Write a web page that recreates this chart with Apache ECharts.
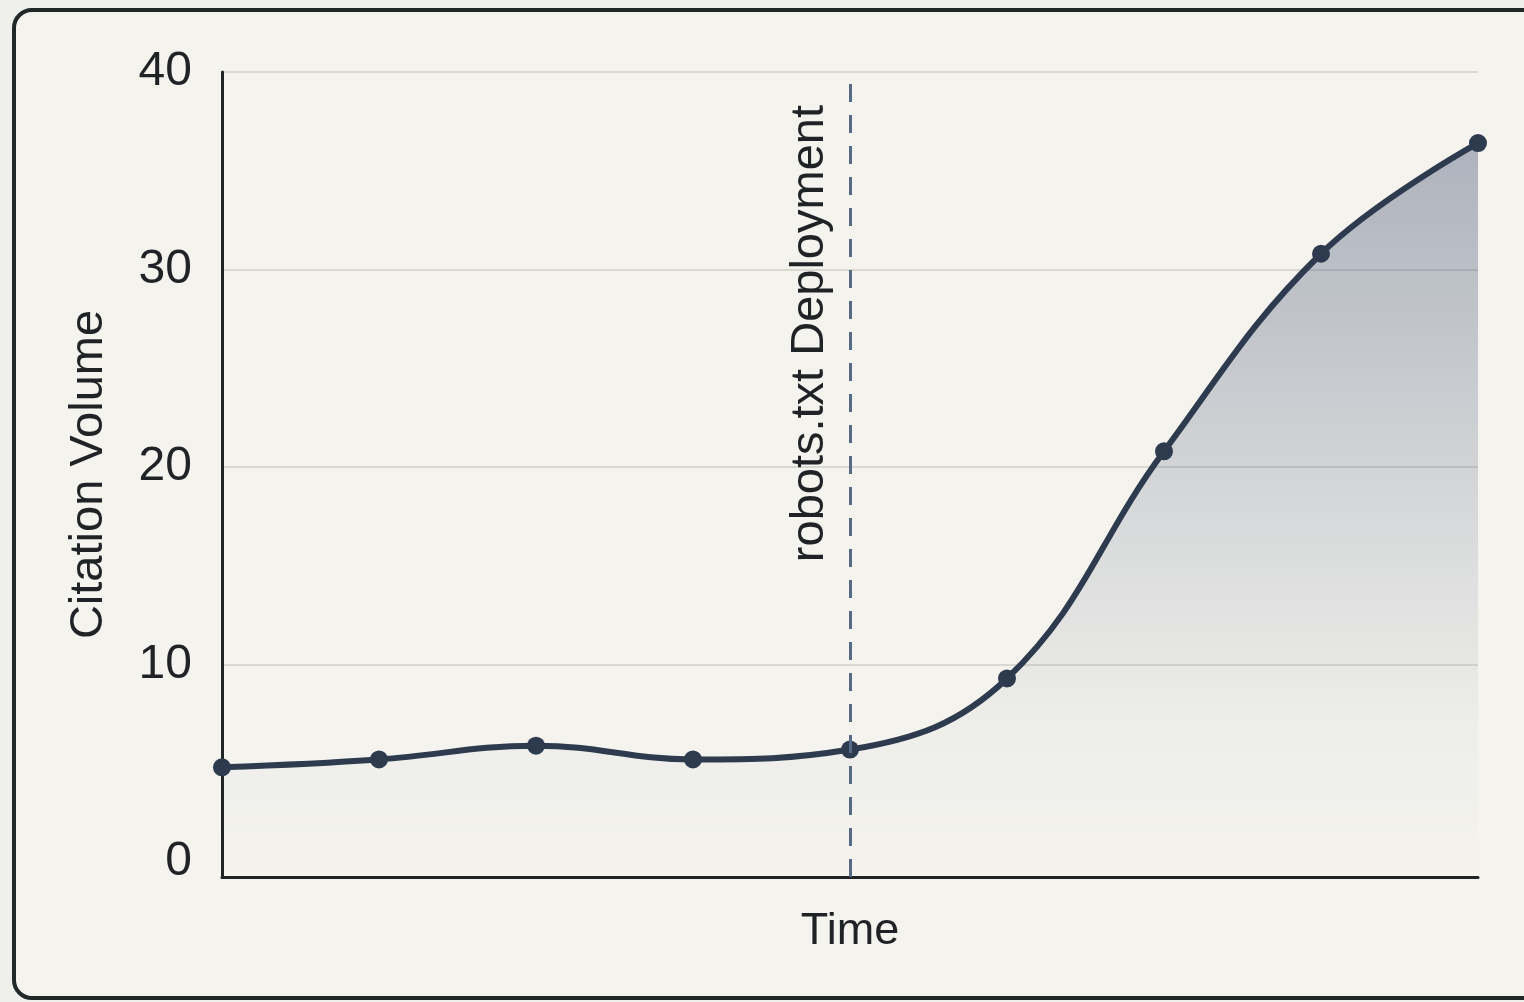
<!DOCTYPE html>
<html>
<head>
<meta charset="utf-8">
<title>Citation Volume over Time</title>
<script src="https://cdn.jsdelivr.net/npm/echarts@6/dist/echarts.min.js"></script>
<style>
  html, body { margin: 0; padding: 0; background: #eff0ec; }
  #chart { width: 1524px; height: 1002px; }
</style>
</head>
<body>
<div id="chart"></div>
<script>
// Time steps (unlabelled on the axis) and citation counts at each step
const timeSlots = ['t1', 't2', 't3', 't4', 't5', 't6', 't7', 't8', 't9'];
const citationVolume = [4.8, 5.2, 5.9, 5.2, 5.7, 9.3, 20.8, 30.8, 36.4];

// Y-axis labels and horizontal grid lines
const yLabelValues = [0, 10, 20, 30, 40];
const yGridValues = [10, 20, 30, 40];

// Event marker
const deploymentSlot = 't5';
const deploymentLabel = 'robots.txt Deployment';

const FONT = '"Liberation Sans", Arial, Helvetica, sans-serif';
const INK = '#1f2326';
const LINE = '#2e3b4e';

const chart = echarts.init(document.getElementById('chart'), null, { renderer: 'canvas' });

chart.setOption({
  backgroundColor: '#eff0ec',
  animation: false,
  graphic: {
    elements: [{
      type: 'rect',
      z: -100,
      shape: { x: 14, y: 10, width: 1560, height: 988, r: 18 },
      style: { fill: '#f4f3ee', stroke: '#222828', lineWidth: 4 }
    }]
  },
  grid: { left: 222, right: 46, top: 72, bottom: 125 },
  xAxis: {
    type: 'category',
    data: timeSlots,
    boundaryGap: false,
    name: 'Time',
    nameLocation: 'middle',
    nameGap: 32,
    nameTextStyle: { fontFamily: FONT, fontSize: 45, color: INK, verticalAlign: 'top' },
    axisLine: { show: true, onZero: false, lineStyle: { color: '#1f2424', width: 3 } },
    axisTick: { show: false },
    axisLabel: { show: false },
    splitLine: { show: false }
  },
  yAxis: {
    type: 'value',
    min: -0.75,
    max: 40,
    name: 'Citation Volume',
    nameLocation: 'middle',
    nameGap: 109,
    nameTextStyle: { fontFamily: FONT, fontSize: 47, color: INK },
    axisLine: { show: true, lineStyle: { color: '#1f2424', width: 3 } },
    axisTick: { show: false, customValues: yGridValues },
    axisLabel: {
      customValues: yLabelValues,
      fontFamily: FONT,
      fontSize: 48,
      color: INK,
      margin: 30
    },
    splitLine: { show: true, lineStyle: { color: '#d9d9d2', width: 2 } }
  },
  series: [{
    type: 'line',
    data: citationVolume,
    smooth: 0.4,
    symbol: 'circle',
    symbolSize: 18,
    lineStyle: { color: LINE, width: 6 },
    itemStyle: { color: LINE },
    areaStyle: {
      origin: 'start',
      color: {
        type: 'linear', x: 0, y: 0, x2: 0, y2: 1,
        colorStops: [
          { offset: 0, color: 'rgba(80,94,124,0.62)' },
          { offset: 0.5, color: 'rgba(80,94,124,0.26)' },
          { offset: 0.8, color: 'rgba(80,94,124,0.05)' },
          { offset: 1, color: 'rgba(80,94,124,0.0)' }
        ]
      }
    },
    markLine: {
      silent: true,
      symbol: ['none', 'none'],
      lineStyle: { color: '#566a86', width: 3, type: [18, 13] },
      label: {
        show: true,
        position: 'insideEndTop',
        formatter: deploymentLabel,
        fontFamily: FONT,
        fontSize: 47,
        color: INK,
        distance: [33, 16]
      },
      data: [{ xAxis: deploymentSlot }]
    }
  }]
});
</script>
</body>
</html>
